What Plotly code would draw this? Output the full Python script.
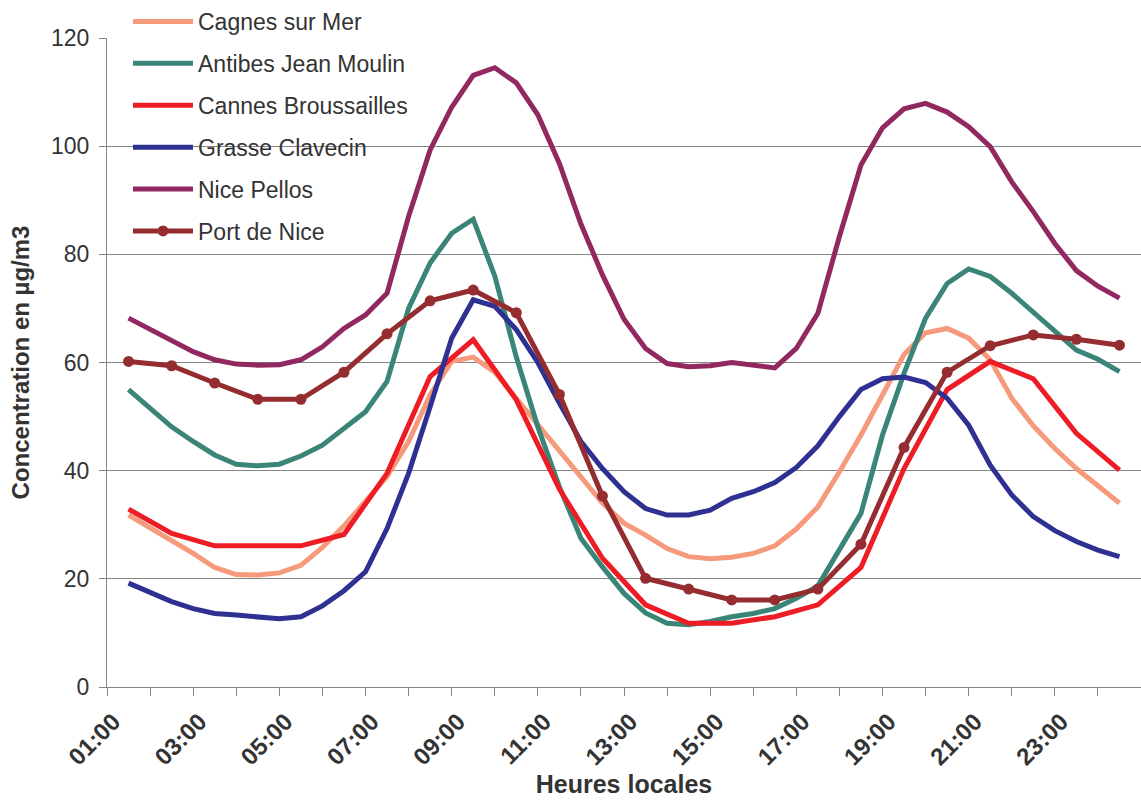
import plotly.graph_objects as go

# ---- data -------------------------------------------------------------
hours = [1, 2, 3, 4, 5, 6, 7, 8, 9, 10, 11, 12,
         13, 14, 15, 16, 17, 18, 19, 20, 21, 22, 23, 24]
half_hours = [1, 1.5, 2, 2.5, 3, 3.5, 4, 4.5, 5, 5.5, 6, 6.5, 7, 7.5,
              8, 8.5, 9, 9.5, 10, 10.5, 11, 11.5, 12, 12.5, 13, 13.5,
              14, 14.5, 15, 15.5, 16, 16.5, 17, 17.5, 18, 18.5, 19, 19.5,
              20, 20.5, 21, 21.5, 22, 22.5, 23, 23.5, 24]
tick_positions = [1, 3, 5, 7, 9, 11, 13, 15, 17, 19, 21, 23]
tick_labels = ["01:00", "03:00", "05:00", "07:00", "09:00", "11:00",
               "13:00", "15:00", "17:00", "19:00", "21:00", "23:00"]

cagnes = [31.8, 29.5, 27.2, 24.7, 22.1, 20.8, 20.7, 21.1, 22.5, 25.8,
          29.8, 34.3, 38.9, 45.4, 54.0, 60.2, 61.0, 58.2, 53.4, 48.4,
          43.8, 38.8, 34.0, 30.3, 28.1, 25.6, 24.1, 23.7, 24.0, 24.7,
          26.1, 29.2, 33.3, 39.8, 46.6, 54.0, 61.5, 65.5, 66.3, 64.5,
          60.5, 53.4, 48.3, 44.1, 40.4, 37.2, 34.0]
antibes = [55.0, 51.5, 48.1, 45.4, 42.9, 41.2, 40.9, 41.2, 42.7, 44.7,
           47.8, 50.9, 56.5, 70.0, 78.4, 83.9, 86.5, 76.0, 61.0, 48.1,
           37.0, 27.5, 22.2, 17.3, 13.7, 11.8, 11.5, 12.1, 13.0, 13.6,
           14.5, 16.4, 18.7, 25.6, 32.1, 46.6, 58.0, 68.2, 74.6, 77.3,
           75.9, 72.8, 69.2, 65.7, 62.3, 60.6, 58.3]
cannes = [32.9, 28.4, 26.1, 26.1, 26.1, 28.2, 39.5, 57.4, 64.2, 53.1,
          36.6, 23.8, 15.2, 11.8, 11.8, 13.0, 15.2, 22.1, 40.4, 55.0,
          60.2, 57.0, 46.9, 40.1]
grasse = [19.2, 17.4, 15.8, 14.5, 13.6, 13.3, 12.9, 12.6, 13.0, 15.0,
          17.8, 21.3, 29.3, 39.5, 51.8, 64.5, 71.6, 70.4, 66.1, 60.0,
          52.5, 45.4, 40.4, 36.1, 33.0, 31.8, 31.8, 32.7, 34.9, 36.1,
          37.8, 40.6, 44.6, 50.0, 55.0, 57.0, 57.3, 56.3, 53.4, 48.4,
          41.0, 35.5, 31.5, 28.9, 26.9, 25.3, 24.1]
nice_pellos = [68.2, 66.1, 64.2, 62.0, 60.5, 59.7, 59.5, 59.6, 60.5, 62.9,
               66.3, 68.8, 72.8, 87.0, 99.3, 107.2, 113.1, 114.5, 111.7, 105.8,
               96.8, 85.6, 76.2, 68.0, 62.6, 59.8, 59.2, 59.4, 60.0, 59.6,
               59.0, 62.6, 69.1, 83.3, 96.5, 103.4, 106.9, 107.9, 106.3, 103.6,
               99.9, 93.4, 87.9, 82.0, 77.0, 74.1, 71.9]
port_nice = [60.2, 59.4, 56.2, 53.2, 53.2, 58.2, 65.3, 71.4, 73.4, 69.2,
             54.1, 35.3, 20.1, 18.1, 16.1, 16.1, 18.1, 26.4, 44.3, 58.2,
             63.1, 65.1, 64.3, 63.2]

series = [
    ("Cagnes sur Mer", half_hours, cagnes, "#F69A7C", False),
    ("Antibes Jean Moulin", half_hours, antibes, "#3A8577", False),
    ("Cannes Broussailles", hours, cannes, "#EE1C25", False),
    ("Grasse Clavecin", half_hours, grasse, "#2E3192", False),
    ("Nice Pellos", half_hours, nice_pellos, "#91285F", False),
    ("Port de Nice", hours, port_nice, "#952D30", True),
]

# ---- styling ----------------------------------------------------------
FONT = "Liberation Sans, Arial, Helvetica, sans-serif"
TXT = "#333333"
GRID = "#868686"
W, H = 1141, 800
ML, MB = 107, 113
PLOT_TOP = 38                      # pixel row of the 120 gridline
Y_DOMAIN_TOP = (H - MB - PLOT_TOP) / (H - MB)
LABEL_SHIFT = -0.35                # rotated labels sit slightly left of the hour

fig = go.Figure()
for name, xs, ys, color, markers in series:
    fig.add_trace(go.Scatter(
        x=xs, y=ys, name=name, legendgroup=name,
        mode="lines+markers" if markers else "lines",
        line=dict(color=color, width=5),
        marker=dict(size=11, color=color) if markers else None,
    ))

# white legend panel hiding the gridlines, drawn under the curves
fig.add_shape(type="rect", layer="between",
              xref="paper", yref="y",
              x0=(125 - ML) / (W - ML), x1=(428 - ML) / (W - ML),
              y0=81.5, y1=125,
              fillcolor="white", line=dict(width=0))

fig.update_layout(
    width=W, height=H,
    margin=dict(l=ML, r=0, t=0, b=MB),
    paper_bgcolor="white", plot_bgcolor="white",
    font=dict(family=FONT, size=23, color=TXT),
    legend=dict(
        x=(128 - ML) / (W - ML), y=1.0, xanchor="left", yanchor="top",
        bgcolor="rgba(0,0,0,0)", borderwidth=0,
        font=dict(family=FONT, size=23, color=TXT),
        tracegroupgap=9, itemwidth=60,
    ),
    xaxis=dict(
        range=[0.5, 24.5], automargin=False,
        tickmode="array",
        tickvals=[p + LABEL_SHIFT for p in tick_positions],
        ticktext=tick_labels,
        tickangle=-45, ticks="", ticklabelstandoff=10,
        tickfont=dict(family=FONT, size=24, color=TXT, weight="bold"),
        showgrid=False, zeroline=False,
        showline=True, linecolor=GRID, linewidth=1,
        minor=dict(ticks="outside", tick0=0.5, dtick=1, ticklen=8,
                   tickcolor=GRID, tickwidth=1, showgrid=False),
        title=dict(text="Heures locales", standoff=3,
                   font=dict(family=FONT, size=25, color=TXT, weight="bold")),
    ),
    yaxis=dict(
        range=[0, 120], dtick=20, tick0=0, automargin=False,
        domain=[0, Y_DOMAIN_TOP],
        ticks="outside", ticklen=7, tickcolor=GRID, tickwidth=1,
        tickfont=dict(family=FONT, size=23, color=TXT),
        ticklabelstandoff=5,
        showgrid=True, gridcolor=GRID, gridwidth=1,
        zeroline=False, showline=True, linecolor=GRID, linewidth=1,
        title=dict(text="Concentration en µg/m3", standoff=14,
                   font=dict(family=FONT, size=24, color=TXT, weight="bold")),
    ),
)

fig.write_html(
    "out.html",
    config={"displayModeBar": False},
    post_script="document.body.style.margin='0';"
                "document.body.style.overflow='hidden';",
)
